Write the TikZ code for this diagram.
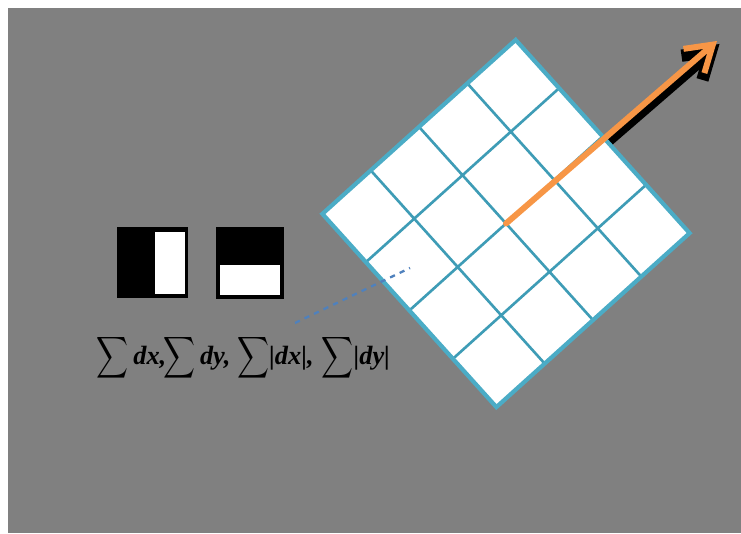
\documentclass[tikz,border=0pt]{standalone}
\usepackage{amsmath,amssymb}
\usepackage{graphicx}
\usepackage{fontspec}
\setmainfont{Liberation Serif}
\usepackage{tikz}
\usetikzlibrary{arrows.meta,positioning}
\definecolor{slide_gray}{RGB}{128,128,128}
\definecolor{grid_teal}{RGB}{75,172,198}
\definecolor{grid_line}{RGB}{62,156,182}
\definecolor{arrow_orange}{RGB}{247,150,70}
\definecolor{dash_blue}{RGB}{79,129,189}
\newcommand{\bigsum}{\ensuremath{\vcenter{\hbox{\scalebox{0.84}[1.1]{$\displaystyle\sum$}}}}}
\newcommand{\bi}[1]{\textbf{\textit{#1}}}

\begin{document}
\begin{tikzpicture}[font=\fontsize{15}{18}\selectfont,
    orient/.style={line cap=round, line join=round,
      -{Straight Barb[length=5mm,width=6.4mm]}}]
        \useasboundingbox (0,0) rectangle (14.82,10.66);
        \fill[slide_gray] (0.16,0) rectangle (14.82,10.5);
        % Haar responses
        \fill[black] (2.34,4.70) rectangle (3.76,6.12);
        \fill[white] (3.10,4.78) rectangle (3.70,6.02);
        \fill[black] (4.32,4.68) rectangle (5.68,6.12);
        \fill[white] (4.40,4.76) rectangle (5.60,5.36);
        % Sums
        \node (sums) at (4.87,3.5)
          {\bigsum\,\bi{dx,}\hspace{-0.1em}\bigsum\,\bi{dy,} \bigsum\bi{|dx|,}\hspace{0.3em}\bigsum\bi{|dy|}};
        % Orientation shadow
        \coordinate (centre) at (10.12,6.19);
        \coordinate (tip) at (14.34,9.84);
        \draw[orient, black, line width=7pt]
          ([shift={(0.05,-0.06)}]centre) -- ([shift={(0.05,-0.06)}]tip);
        % Window grid
        \begin{scope}[shift={(centre)}, rotate=42]
          \fill[white] (-2.6,-2.6) rectangle (2.6,2.6);
          \draw[grid_line, line width=1.5pt] (-2.6,-2.6) grid[step=1.3] (2.6,2.6);
          \draw[grid_teal, line width=2.4pt] (-2.6,-2.6) rectangle (2.6,2.6);
        \end{scope}
        % Orientation
        \draw[orient, arrow_orange, line width=3.4pt] (centre) -- (tip);
        % Link to sums
        \coordinate (dstart) at (5.9,4.2);
        \coordinate (dend) at (8.2,5.3);
        \draw[dash_blue, dashed, line width=1.3pt] (dstart) -- (dend);
      \end{tikzpicture}
\end{document}
